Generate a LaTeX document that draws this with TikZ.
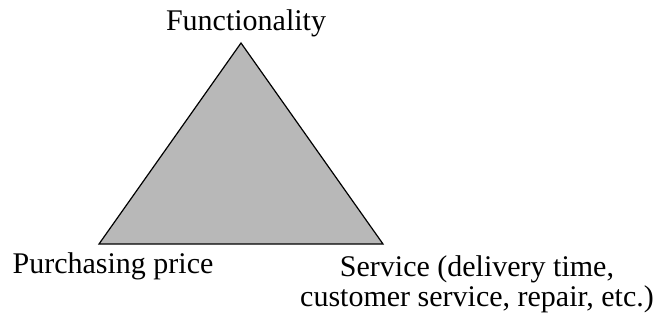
\documentclass[tikz,border=0pt]{standalone}
\usepackage{fontspec}
\setmainfont{Liberation Serif}
\begin{document}
\begin{tikzpicture}[x=0.5pt,y=-0.5pt,every node/.style={font=\fontsize{15}{15}\selectfont,inner sep=0pt}]
\useasboundingbox (0,0) rectangle (656,320);

\coordinate (func) at (241,43);
\coordinate (price) at (99,244);
\coordinate (serv) at (383,244);

\draw [fill={rgb,255:red,184;green,184;blue,184}, line width=0.6pt, line join=miter] (func) -- (price) -- (serv) -- cycle;

\node [anchor=base] (funclabel) at (246,31) {Functionality};
\node [anchor=base] (pricelabel) at (113,273) {Purchasing price};
\node [anchor=base, align=center] (servlabel) at (477,306) {Service (delivery time,\\customer service, repair, etc.)};

\end{tikzpicture}
\end{document}
